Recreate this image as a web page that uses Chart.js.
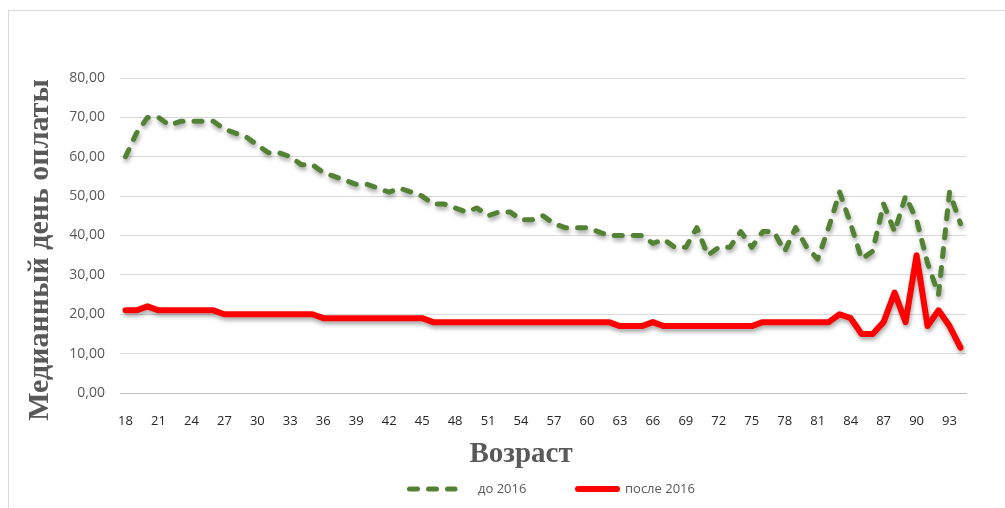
<!DOCTYPE html>
<html>
<head>
<meta charset="utf-8">
<script src="https://cdn.jsdelivr.net/npm/chart.js@4.4.0/dist/chart.umd.min.js"></script>
<style>
html, body { margin: 0; padding: 0; background: #fff; overflow: hidden; }
#frame { position: absolute; left: 8px; top: 10px; width: 1100px; height: 600px; border: 1px solid #d9d9d9; }
#wrap { position: absolute; left: 0; top: 0; width: 1005px; height: 508px; }
</style>
</head>
<body>
<div id="frame"></div>
<div id="wrap"><canvas id="myChart" width="1005" height="508"></canvas></div>
<script>
var ages = [18, 19, 20, 21, 22, 23, 24, 25, 26, 27, 28, 29, 30, 31, 32, 33, 34, 35, 36, 37,
            38, 39, 40, 41, 42, 43, 44, 45, 46, 47, 48, 49, 50, 51, 52, 53, 54, 55, 56, 57,
            58, 59, 60, 61, 62, 63, 64, 65, 66, 67, 68, 69, 70, 71, 72, 73, 74, 75, 76, 77,
            78, 79, 80, 81, 82, 83, 84, 85, 86, 87, 88, 89, 90, 91, 92, 93, 94];

// до 2016
var before2016 = [60, 66, 70, 70, 68, 69, 69, 69, 69, 67, 66, 65, 63, 61, 61, 60, 58, 58, 56, 55,
                  54, 53, 53, 52, 51, 52, 51, 50, 48, 48, 47, 46, 47, 45, 46, 46, 44, 44, 45, 43,
                  42, 42, 42, 41, 40, 40, 40, 40, 38, 39, 37, 37, 42, 35, 37, 37, 41, 37, 41, 41,
                  36, 42, 37, 34, 42, 51, 43, 34, 36, 48, 41, 50, 44, 33, 25, 51, 43];

// после 2016
var after2016 = [21, 21, 22, 21, 21, 21, 21, 21, 21, 20, 20, 20, 20, 20, 20, 20, 20, 20, 19, 19,
                 19, 19, 19, 19, 19, 19, 19, 19, 18, 18, 18, 18, 18, 18, 18, 18, 18, 18, 18, 18,
                 18, 18, 18, 18, 18, 17, 17, 17, 18, 17, 17, 17, 17, 17, 17, 17, 17, 17, 18, 18,
                 18, 18, 18, 18, 18, 20, 19, 15, 15, 18, 25.5, 18, 35, 17, 21, 17, 11.5];

var seriesLabels = ['до 2016', 'после 2016'];
var xTitle = 'Возраст';
var yTitle = 'Медианный день оплаты';
var yMin = 0, yMax = 80, yStep = 10;
var labelEvery = 3;

Chart.defaults.font.family = "'Open Sans', sans-serif";

// тень под линиями, как в Excel
var lineShadow = {
    id: 'lineShadow',
    beforeDatasetsDraw: function(chart) {
        var ctx = chart.ctx;
        ctx.save();
        ctx.shadowColor = 'rgba(0, 0, 0, 0.35)';
        ctx.shadowBlur = 4;
        ctx.shadowOffsetX = 1;
        ctx.shadowOffsetY = 3;
    },
    afterDatasetsDraw: function(chart) {
        chart.ctx.restore();
    }
};

// подписи осей (Excel ставит их не по центру области построения)
var axisTitles = {
    id: 'axisTitles',
    afterDraw: function(chart) {
        var ctx = chart.ctx;
        ctx.save();
        ctx.fillStyle = '#595959';
        ctx.font = "bold 29px 'Liberation Serif', serif";
        ctx.textAlign = 'center';
        ctx.textBaseline = 'middle';
        ctx.fillText(xTitle, 521, 455);
        ctx.translate(40, 250);
        ctx.rotate(-Math.PI / 2);
        ctx.font = "bold 30px 'Liberation Serif', serif";
        ctx.fillText(yTitle, 0, 0);
        ctx.restore();
    }
};

// легенда внизу
var bottomLegend = {
    id: 'bottomLegend',
    afterDraw: function(chart) {
        var ctx = chart.ctx;
        var y = 489;
        var lines = [[409.5, 455], [578, 617]];
        var textX = [478, 625];
        chart.data.datasets.forEach(function(ds, i) {
            ctx.save();
            ctx.strokeStyle = ds.borderColor;
            ctx.lineWidth = ds.borderWidth;
            ctx.lineCap = 'round';
            ctx.setLineDash(ds.borderDash || []);
            ctx.beginPath();
            ctx.moveTo(lines[i][0], y);
            ctx.lineTo(lines[i][1], y);
            ctx.stroke();
            ctx.fillStyle = '#595959';
            ctx.font = "13px 'Open Sans', sans-serif";
            ctx.textBaseline = 'middle';
            ctx.fillText(ds.label, textX[i], y);
            ctx.restore();
        });
    }
};

var ctx = document.getElementById('myChart').getContext('2d');
var chart = new Chart(ctx, {
    type: 'line',
    data: {
        labels: ages,
        datasets: [{
            label: seriesLabels[0],
            data: before2016,
            borderColor: '#548235',
            borderWidth: 5,
            borderDash: [8, 11],
            borderCapStyle: 'round',
            borderJoinStyle: 'round',
            pointRadius: 0,
            tension: 0,
            fill: false,
            order: 1
        }, {
            label: seriesLabels[1],
            data: after2016,
            borderColor: '#ff0000',
            borderWidth: 6,
            borderCapStyle: 'round',
            borderJoinStyle: 'round',
            pointRadius: 0,
            tension: 0,
            fill: false,
            order: 0
        }]
    },
    options: {
        responsive: false,
        devicePixelRatio: 1,
        animation: false,
        layout: {
            padding: { left: 20, right: 39, top: 78, bottom: 35 }
        },
        scales: {
            x: {
                offset: true,
                grid: { display: false },
                border: { display: true, color: '#bfbfbf', width: 1 },
                ticks: {
                    autoSkip: false,
                    maxRotation: 0,
                    padding: 12,
                    color: '#262626',
                    font: { size: 13 },
                    callback: function(value, index) {
                        return index % labelEvery === 0 ? this.getLabelForValue(value) : '';
                    }
                },
                afterFit: function(scale) { scale.height = 80; }
            },
            y: {
                min: yMin,
                max: yMax,
                grid: { color: '#d9d9d9', drawTicks: false },
                border: { display: false },
                ticks: {
                    stepSize: yStep,
                    padding: 15,
                    color: '#595959',
                    font: { size: 14 },
                    callback: function(value) {
                        return value.toFixed(2).replace('.', ',');
                    }
                },
                afterFit: function(scale) { scale.width = 100; }
            }
        },
        plugins: {
            legend: { display: false },
            tooltip: { enabled: false }
        }
    },
    plugins: [lineShadow, axisTitles, bottomLegend]
});
</script>
</body>
</html>
